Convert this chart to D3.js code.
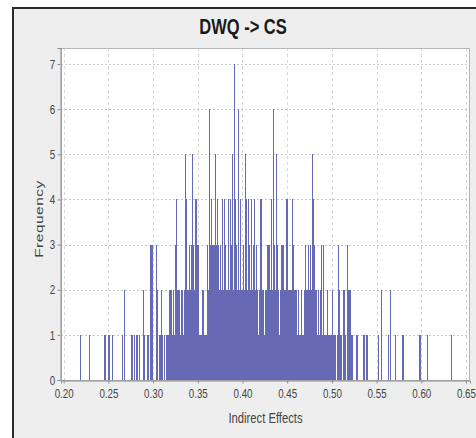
<!DOCTYPE html>
<html>
<head>
<meta charset="utf-8">
<script src="https://cdn.jsdelivr.net/npm/d3@7"></script>
<style>
  html, body { margin: 0; padding: 0; background: #ffffff; }
  svg { display: block; }
</style>
</head>
<body>
<script>
// ---- data ----
const chartTitle = "DWQ -> CS";
const xTitle = "Indirect Effects";
const yTitle = "Frequency";
const xTicks = [0.20, 0.25, 0.30, 0.35, 0.40, 0.45, 0.50, 0.55, 0.60, 0.65];
const yTicks = [0, 1, 2, 3, 4, 5, 6, 7];
// histogram bins (Indirect Effects): first bin's left edge and bin width
const binStart = 0.2180;
const binWidth = 0.001118;
// frequency of each bin, in order
const counts = [
  1,0,0,0,0,0,0,0,0,1,
  0,0,0,0,0,0,0,0,0,0,
  0,0,0,0,1,1,0,0,1,1,
  0,0,1,0,0,0,0,0,0,0,
  0,0,1,0,2,0,0,0,0,0,
  0,1,1,0,1,0,1,1,0,1,
  0,0,0,2,1,0,0,1,1,0,
  3,3,3,0,0,0,3,2,0,1,
  1,2,1,0,1,0,1,1,1,2,
  2,2,1,2,1,3,4,2,2,2,
  1,2,2,1,2,5,4,2,2,3,
  2,3,5,3,2,4,4,3,3,1,
  1,1,2,2,1,1,1,3,2,6,
  3,4,3,3,3,5,3,4,3,2,
  3,2,4,2,4,3,2,2,4,2,
  4,3,5,2,7,4,3,2,6,2,
  4,2,2,3,2,5,4,2,4,3,
  2,4,2,3,4,2,3,2,1,2,
  4,4,2,2,1,2,2,3,3,3,
  2,4,2,6,3,2,5,3,2,1,
  2,3,3,3,2,2,4,4,2,2,
  2,2,4,3,2,2,2,1,2,1,
  1,2,1,1,2,3,2,2,3,2,
  3,2,5,4,3,2,2,1,2,1,
  2,3,1,3,1,1,1,2,1,1,
  1,1,2,1,1,1,0,1,3,2,
  1,1,0,2,2,1,0,3,2,2,
  2,1,1,0,0,0,1,1,0,0,
  0,0,0,1,1,0,1,1,0,0,
  0,0,0,0,0,0,0,0,1,0,
  0,2,0,0,0,0,0,0,1,0,
  2,0,0,0,0,1,0,0,0,0,
  0,0,1,1,0,0,0,0,0,0,
  0,0,0,0,0,0,0,0,0,1,
  1,0,0,0,0,0,0,1,0,0,
  0,0,0,0,0,0,0,0,0,0,
  0,0,0,0,0,0,0,0,0,0,
  0,1
];

// ---- layout ----
const W = 476, H = 438;
const plot = { left: 61, top: 48, right: 470, bottom: 381 };
const squeeze = 0.75;
const font = "'Liberation Sans', Arial, Helvetica, sans-serif";

const svg = d3.select("body").append("svg")
  .attr("width", W).attr("height", H);

// panel background and frame
svg.append("rect").attr("x", 0).attr("y", 0).attr("width", W).attr("height", H).attr("fill", "#ffffff");
svg.append("rect").attr("x", 13).attr("y", 8).attr("width", W - 13).attr("height", H - 8).attr("fill", "#eeeeee");
svg.append("line").attr("x1", 13).attr("x2", 13).attr("y1", 7).attr("y2", H)
  .attr("stroke", "#2b2b2b").attr("stroke-width", 2);
svg.append("line").attr("x1", 12).attr("x2", W).attr("y1", 8).attr("y2", 8)
  .attr("stroke", "#2b2b2b").attr("stroke-width", 2);

// scales
const x = d3.scaleLinear().domain([0.197, 0.6545]).range([plot.left, plot.right]);
const y = d3.scaleLinear().domain([0, 7.355]).range([380, plot.top]);

// plot area
svg.append("rect")
  .attr("x", plot.left).attr("y", plot.top)
  .attr("width", plot.right - plot.left).attr("height", plot.bottom - plot.top)
  .attr("fill", "#ffffff");

// gridlines
const grid = svg.append("g");
grid.selectAll("line.vx").data(xTicks).enter().append("line")
  .attr("x1", d => Math.round(x(d)) + 0.5).attr("x2", d => Math.round(x(d)) + 0.5)
  .attr("y1", plot.top).attr("y2", 380)
  .attr("stroke", "#d6d6d6").attr("stroke-width", 1).attr("stroke-dasharray", "3,3");
grid.selectAll("line.hy").data(yTicks.filter(d => d > 0)).enter().append("line")
  .attr("x1", plot.left).attr("x2", plot.right)
  .attr("y1", d => Math.round(y(d)) + 0.5).attr("y2", d => Math.round(y(d)) + 0.5)
  .attr("stroke", "#c8c8c8").attr("stroke-width", 1).attr("stroke-dasharray", "2,2");

// bars
const bars = counts.map((c, i) => ({ lo: binStart + i * binWidth, c })).filter(d => d.c > 0);
svg.append("g").selectAll("rect").data(bars).enter().append("rect")
  .attr("x", d => x(d.lo))
  .attr("width", Math.max(1, x(binWidth) - x(0)))
  .attr("y", d => y(d.c))
  .attr("height", d => y(0) - y(d.c))
  .attr("fill", "#6669b3")
  .attr("shape-rendering", "crispEdges");

// plot border
svg.append("rect")
  .attr("x", plot.left + 0.5).attr("y", plot.top + 0.5)
  .attr("width", plot.right - plot.left - 1).attr("height", plot.bottom - plot.top - 1)
  .attr("fill", "none").attr("stroke", "#b4b4b4");

// axes
const xAxis = svg.append("g").attr("transform", `translate(0,${380.5})`)
  .call(d3.axisBottom(x).tickValues(xTicks).tickFormat(d3.format(".2f")).tickSize(3).tickPadding(5));
const yAxis = svg.append("g").attr("transform", `translate(${plot.left - 0.5},0)`)
  .call(d3.axisLeft(y).tickValues(yTicks).tickFormat(d3.format("d")).tickSize(3).tickPadding(4));
[xAxis, yAxis].forEach(g => {
  g.select(".domain").attr("stroke", "#8c8c8c");
  g.selectAll(".tick line").attr("stroke", "#8c8c8c");
  g.selectAll(".tick text").attr("fill", "#444444")
    .style("font-family", font).style("font-size", "13px");
});
xAxis.selectAll(".tick text").attr("transform", `scale(${squeeze},1)`);
yAxis.selectAll(".tick text").attr("transform", `scale(${squeeze},1)`);

// title
svg.append("text")
  .attr("transform", `translate(243,34) scale(${squeeze},1)`)
  .attr("text-anchor", "middle")
  .style("font-family", font).style("font-size", "22px").style("font-weight", "bold")
  .attr("fill", "#1a1a1a")
  .text(chartTitle);

// axis titles
svg.append("text")
  .attr("transform", `translate(265.5,423) scale(${squeeze},1)`)
  .attr("text-anchor", "middle")
  .style("font-family", font).style("font-size", "15px")
  .attr("fill", "#444444")
  .text(xTitle);
svg.append("text")
  .attr("transform", `translate(43,219) rotate(-90) scale(1,${squeeze})`)
  .attr("text-anchor", "middle")
  .style("font-family", font).style("font-size", "15.5px")
  .style("letter-spacing", "0.5px")
  .attr("fill", "#444444")
  .text(yTitle);
</script>
</body>
</html>
